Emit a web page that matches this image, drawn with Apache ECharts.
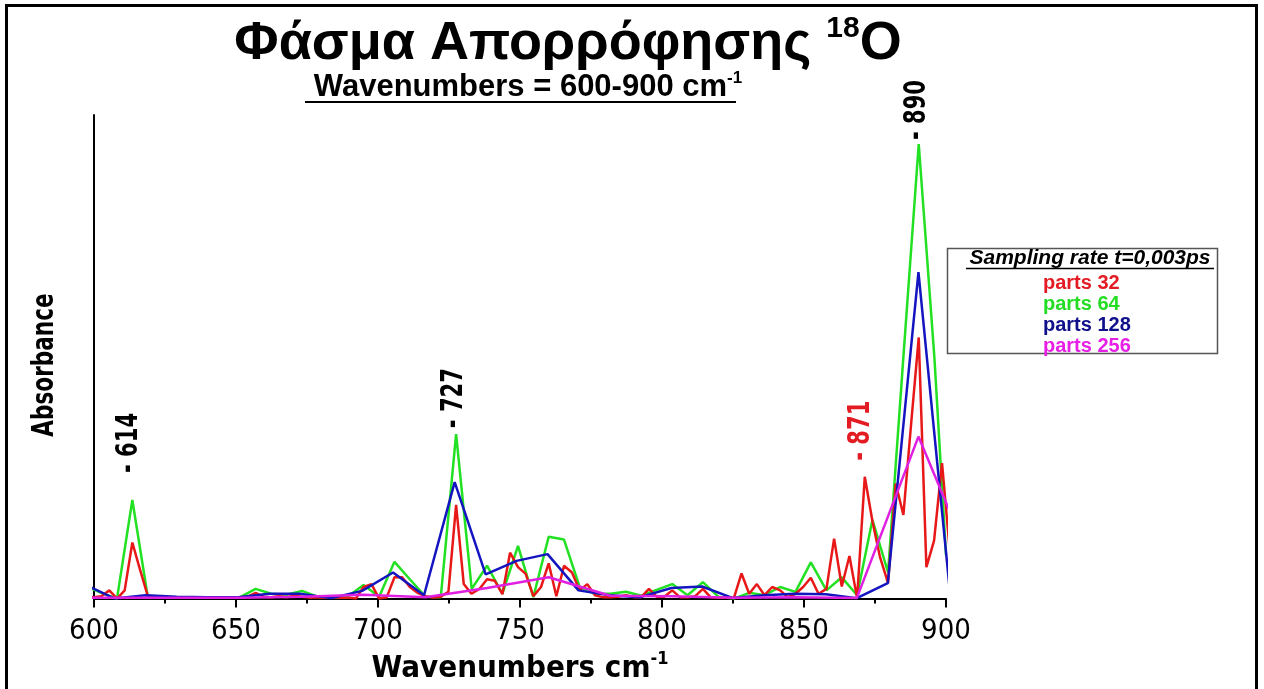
<!DOCTYPE html>
<html><head><meta charset="utf-8">
<script src="https://cdn.jsdelivr.net/npm/echarts@6/dist/echarts.min.js"></script>
<style>html,body{margin:0;padding:0;background:#fff}#c{width:1264px;height:689px}</style>
</head><body><div id="c"></div>
<script>
// ---- data (wavenumber, absorbance in arbitrary units) ----
const redX = [597.2,599.9,602.6,605.4,608.1,610.8,613.5,616.2,618.9,621.6,624.4,627.1,629.8,632.5,635.2,637.9,640.7,643.4,646.1,648.8,651.5,654.2,656.9,659.7,662.4,665.1,667.8,670.5,673.2,675.9,678.7,681.4,684.1,686.8,689.5,692.2,694.9,697.7,700.4,703.1,705.8,708.5,711.2,713.9,716.7,719.4,722.1,724.8,727.5,730.2,732.9,735.7,738.4,741.1,743.8,746.5,749.3,752.0,754.7,757.4,760.1,762.8,765.5,768.3,771.0,773.7,776.4,779.1,781.8,784.5,787.3,790.0,792.7,795.4,798.1,800.8,803.6,806.3,809.0,811.7,814.4,817.1,819.8,822.6,825.3,828.0,830.7,833.4,836.1,838.8,841.6,844.3,847.0,849.7,852.4,855.1,857.9,860.6,863.3,866.0,868.7,871.4,874.1,876.8,879.6,882.3,885.0,887.7,890.4,893.1,895.8,898.6,901.3];
const redY = [0.005,0.003,0.005,0.017,0.0,0.017,0.116,0.06,0.006,0.003,0.002,0.003,0.002,0.002,0.003,0.002,0.002,0.003,0.002,0.002,0.003,0.004,0.012,0.004,0.003,0.005,0.003,0.006,0.004,0.002,0.003,0.002,0.003,0.002,0.002,0.0,0.024,0.03,0.0,0.003,0.044,0.044,0.024,0.012,0.005,0.002,0.004,0.014,0.194,0.03,0.01,0.02,0.04,0.037,0.009,0.095,0.065,0.051,0.005,0.024,0.073,0.005,0.068,0.054,0.017,0.03,0.007,0.003,0.003,0.004,0.007,0.003,0.003,0.02,0.004,0.004,0.017,0.003,0.003,0.005,0.02,0.003,0.002,0.002,0.001,0.052,0.01,0.03,0.007,0.024,0.017,0.003,0.01,0.024,0.043,0.01,0.02,0.124,0.025,0.088,0.001,0.252,0.16,0.085,0.032,0.238,0.173,0.36,0.54,0.065,0.12,0.28,0.1];

const greenX = [597.2,602.6,608.1,613.5,618.9,624.4,629.8,635.2,640.6,646.1,651.5,656.9,662.4,667.8,673.2,678.7,684.1,689.5,694.9,700.4,705.8,711.2,716.7,722.1,727.5,733.0,738.4,743.8,749.3,754.7,760.1,765.5,771.0,776.4,781.8,787.3,792.7,798.1,803.6,809.0,814.4,819.8,825.3,830.7,836.1,841.6,847.0,852.4,857.9,863.3,868.7,874.1,879.6,885.0,890.4,895.9,900.0];
const greenY = [0.025,0.012,0.0,0.204,0.005,0.003,0.002,0.002,0.002,0.002,0.003,0.02,0.01,0.008,0.016,0.004,0.002,0.005,0.028,0.004,0.076,0.04,0.004,0.003,0.34,0.02,0.068,0.01,0.109,0.003,0.128,0.122,0.024,0.01,0.01,0.014,0.006,0.018,0.03,0.007,0.034,0.004,0.0,0.012,0.007,0.024,0.014,0.075,0.017,0.044,0.007,0.163,0.054,0.5,0.94,0.5,0.09];

const blueX = [596.4,607.3,618.2,629.1,640.0,650.8,661.7,672.6,683.5,694.4,705.3,716.2,727.0,737.9,748.8,759.7,770.6,781.5,792.4,803.3,814.1,825.0,835.9,846.8,857.7,868.6,879.5,890.3,901.2];
const blueY = [0.03,0.0,0.007,0.004,0.003,0.003,0.01,0.01,0.001,0.016,0.054,0.007,0.241,0.05,0.078,0.092,0.017,0.007,0.003,0.022,0.025,0.001,0.007,0.01,0.009,0.001,0.032,0.675,0.025];

const magentaX = [586.5,608.2,629.9,651.6,673.3,695.0,716.7,738.4,760.1,781.8,803.5,825.2,846.9,868.6,890.3,912.0];
const magentaY = [0.002,0.002,0.002,0.002,0.004,0.008,0.003,0.022,0.044,0.006,0.005,0.002,0.003,0.001,0.335,0.03];

const seriesNames = ['parts 32','parts 64','parts 128','parts 256'];
const peakMarks = [614, 727, 871, 890];
const peakTexts = ['- 614','- 727','- 871','- 890'];
const xTickLabels = ['600','650','700','750','800','850','900'];

// ---- styling ----
const NARROW = "'Liberation Sans Narrow','DejaVu Sans Condensed','Liberation Sans',Arial,sans-serif";
const ARIAL = "'Liberation Sans',Arial,sans-serif";
const lineCol = {'parts 32':'#e81818','parts 64':'#22e022','parts 128':'#1414c0','parts 256':'#e020e0'};
const textCol = {'parts 32':'#e31b23','parts 64':'#22dd22','parts 128':'#10108a','parts 256':'#e61ee6'};
const peakStyle = [
  {color:'#000', gap:27, dx:-5},
  {color:'#000', gap:6, dx:0},
  {color:'#e31b23', gap:16, dx:-2},
  {color:'#000', gap:4, dx:0}
];

const zip = (xs, ys) => xs.map((x,i)=>[x, ys[i]]);
const dataSets = {
  'parts 64': zip(greenX, greenY),
  'parts 32': zip(redX, redY),
  'parts 128': zip(blueX, blueY),
  'parts 256': zip(magentaX, magentaY)
};
const drawOrder = ['parts 64','parts 32','parts 128','parts 256'];

const chart = echarts.init(document.getElementById('c'), null, {renderer:'canvas'});

const option = {
  backgroundColor:'#fff',
  animation:false,
  grid:{left:94, right:318, top:115, bottom:84},
  xAxis:{
    type:'value', min:600, max:900, interval:50,
    axisLine:{show:true, onZero:false, lineStyle:{color:'#000', width:2}},
    axisTick:{show:true, inside:false, length:9, lineStyle:{color:'#000', width:2}},
    minorTick:{show:true, splitNumber:2, length:5, lineStyle:{color:'#000', width:2}},
    splitLine:{show:false},
    axisLabel:{color:'#000', fontSize:29, fontFamily:NARROW, margin:18,
      formatter:(v)=>{const s=String(v); return xTickLabels.includes(s)?s:'';}},
    name:'{t|Wavenumbers cm}{s|-1}',
    nameLocation:'middle', nameGap:50,
    nameTextStyle:{color:'#000', rich:{
      t:{fontSize:31, fontWeight:'bold', fontFamily:NARROW, color:'#000', lineHeight:36},
      s:{fontSize:18, fontWeight:'bold', fontFamily:NARROW, color:'#000', verticalAlign:'top', lineHeight:36}
    }}
  },
  yAxis:{
    type:'value', min:0, max:1,
    axisLine:{show:true, onZero:false, lineStyle:{color:'#000', width:2}},
    axisTick:{show:false}, axisLabel:{show:false}, splitLine:{show:false}
  },
  legend:{
    orient:'vertical', left:1033, top:267, icon:'none', itemWidth:0, itemHeight:22, itemGap:0,
    selectedMode:false,
    data:seriesNames.map(n=>({name:n, textStyle:{color:textCol[n]}})),
    textStyle:{fontSize:20, fontWeight:'bold', fontFamily:ARIAL}
  },
  series: drawOrder.map(n=>({
    name:n, type:'line', data:dataSets[n], showSymbol:false, symbol:'none',
    clip:true, smooth:false,
    lineStyle:{color:lineCol[n], width:2.5}, itemStyle:{color:lineCol[n]}
  })),
  graphic:[
    {type:'rect', shape:{x:6.5, y:5.5, width:1250, height:720}, style:{fill:'none', stroke:'#000', lineWidth:3}, silent:true},
    {type:'text', x:568, y:44, style:{text:'{t|Φάσμα Απορρόφησης }{s|18}{t|O}', align:'center', verticalAlign:'middle',
      rich:{t:{fontSize:54, fontWeight:'bold', fontFamily:ARIAL, fill:'#000', lineHeight:60},
            s:{fontSize:30, fontWeight:'bold', fontFamily:ARIAL, fill:'#000', verticalAlign:'top', lineHeight:60}}}},
    {type:'text', x:528, y:87, style:{text:'{t|Wavenumbers = 600-900 cm}{s|-1}', align:'center', verticalAlign:'middle',
      rich:{t:{fontSize:31, fontWeight:'bold', fontFamily:ARIAL, fill:'#000', lineHeight:34},
            s:{fontSize:17, fontWeight:'bold', fontFamily:ARIAL, fill:'#000', verticalAlign:'top', lineHeight:34}}}},
    {type:'line', shape:{x1:305, y1:102, x2:736, y2:102}, style:{stroke:'#000', lineWidth:2}},
    {type:'text', x:45, y:365, rotation:Math.PI/2, scaleX:0.8,
      style:{text:'Absorbance', align:'center', verticalAlign:'middle', fontSize:30, fontWeight:'bold', fontFamily:NARROW, fill:'#000'}},
    {type:'rect', shape:{x:947.5, y:248.5, width:270, height:105}, style:{fill:'none', stroke:'#555', lineWidth:1.5}},
    {type:'text', x:1090, y:258, style:{text:'Sampling rate t=0,003ps', align:'center', verticalAlign:'middle',
      fontSize:21, fontWeight:'bold', fontStyle:'italic', fontFamily:ARIAL, fill:'#000'}},
    {type:'line', shape:{x1:966, y1:268.5, x2:1214, y2:268.5}, style:{stroke:'#000', lineWidth:1.5}}
  ]
};
chart.setOption(option);

// peak annotations, anchored through the chart's own scales
const allSets = Object.values(dataSets);
const ann = peakMarks.map((pk, i)=>{
  let h = 0;
  allSets.forEach(d=>d.forEach(([x,y])=>{ if (Math.abs(x-pk) <= 1.6 && y > h) h = y; }));
  const p = chart.convertToPixel({xAxisIndex:0, yAxisIndex:0}, [pk, h]);
  return {type:'text', x:p[0]+peakStyle[i].dx, y:p[1]-peakStyle[i].gap, rotation:Math.PI/2, scaleX:0.78,
    style:{text:peakTexts[i], align:'left', verticalAlign:'middle', fontSize:30, fontWeight:'bold',
      fontFamily:NARROW, fill:peakStyle[i].color}};
});
chart.setOption({graphic: option.graphic.concat(ann)});
</script></body></html>
